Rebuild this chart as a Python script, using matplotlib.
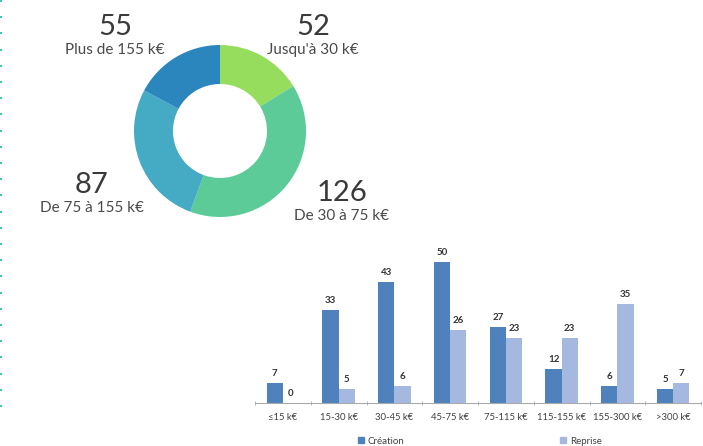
import matplotlib
matplotlib.use("Agg")
import matplotlib.pyplot as plt
import numpy as np
from matplotlib.patches import Patch

# ---- data ----
donut_labels = ["Jusqu'à 30 k€", "De 30 à 75 k€", "De 75 à 155 k€", "Plus de 155 k€"]
donut_values = [52, 126, 87, 55]
donut_colors = ["#96DD5E", "#5CCB98", "#45AAC4", "#2B86BE"]

bar_categories = ["≤15 k€", "15-30 k€", "30-45 k€", "45-75 k€", "75-115 k€",
                  "115-155 k€", "155-300 k€", ">300 k€"]
creation = [7, 33, 43, 50, 27, 12, 6, 5]
reprise = [0, 5, 6, 26, 23, 23, 35, 7]
series_names = ["Création", "Reprise"]
bar_colors = ["#4F81BD", "#A5B9E0"]

W, H = 703, 446
fig = plt.figure(figsize=(W / 100, H / 100), dpi=100)
fig.patch.set_facecolor("white")

fam = ["Lato", "DejaVu Sans"]

# ---- dotted teal border on left ----
ax_bg = fig.add_axes([0, 0, 1, 1])
ax_bg.set_xlim(0, W)
ax_bg.set_ylim(H, 0)
ax_bg.axis("off")
dots_y = np.arange(1, 410, 16.2)
ax_bg.scatter(np.full_like(dots_y, 0.8), dots_y, s=4, color="#3EC6B8", marker="s", linewidths=0)

# ---- donut ----
cx, cy, box = 220, 131, 200
ax_d = fig.add_axes([(cx - box / 2) / W, (H - cy - box / 2) / H, box / W, box / H])
ax_d.pie(donut_values, colors=donut_colors, startangle=90, counterclock=False,
         radius=0.86, wedgeprops=dict(width=0.39, edgecolor="none"))
ax_d.set_xlim(-1, 1)
ax_d.set_ylim(-1, 1)
ax_d.set_aspect("equal")
ax_d.axis("off")

# label positions in pixels (number center, text center)
label_pos = {
    "Jusqu'à 30 k€": (313, 27, 50),
    "De 30 à 75 k€": (342, 193, 216),
    "De 75 à 155 k€": (92, 185, 208),
    "Plus de 155 k€": (115, 27, 50),
}
for lab, val in zip(donut_labels, donut_values):
    x, yn, yt = label_pos[lab]
    ax_bg.text(x, yn, str(val), ha="center", va="center", fontsize=21,
               color="#3a3a3a", family=fam, fontweight="normal")
    ax_bg.text(x, yt, lab, ha="center", va="center", fontsize=11,
               color="#4a4a4a", family=fam, fontweight="normal")

# ---- bar chart ----
left_px, right_px, base_px = 255, 701, 403
ymax = 55
top_px = base_px - ymax * 2.82
ax = fig.add_axes([left_px / W, (H - base_px) / H, (right_px - left_px) / W,
                   (base_px - top_px) / H])
x = np.arange(len(bar_categories))
bw = 0.29
b1 = ax.bar(x - bw / 2, creation, bw, color=bar_colors[0], label=series_names[0])
b2 = ax.bar(x + bw / 2, reprise, bw, color=bar_colors[1], label=series_names[1])
for bars, vals in ((b1, creation), (b2, reprise)):
    for rect, v in zip(bars, vals):
        ax.annotate(str(v), (rect.get_x() + rect.get_width() / 2, v),
                    xytext=(0, 3.5), textcoords="offset points", ha="center",
                    va="bottom", fontsize=7, color="#333333", family=fam,
                    fontweight="bold")
ax.set_xlim(-0.5, len(bar_categories) - 0.5)
ax.set_ylim(0, ymax)
for s in ["top", "right", "left"]:
    ax.spines[s].set_visible(False)
ax.spines["bottom"].set_color("#AAAAAA")
ax.spines["bottom"].set_linewidth(0.8)
ax.set_yticks([])
ax.set_xticks(x)
ax.set_xticklabels(bar_categories, fontsize=6.8, color="#404040", family=fam)
ax.tick_params(axis="x", length=0, pad=7)
ax.set_xticks(np.arange(-0.5, len(bar_categories), 1.0), minor=True)
ax.tick_params(axis="x", which="minor", length=3, color="#AAAAAA", direction="inout")
ax.patch.set_alpha(0)

leg = fig.legend(handles=[Patch(color=bar_colors[0]), Patch(color=bar_colors[1])],
                 labels=series_names, ncol=2, loc="center",
                 bbox_to_anchor=(480 / W, (H - 441) / H), frameon=False,
                 handlelength=0.6, handleheight=0.6,
                 handletextpad=0.4, columnspacing=16, prop=dict(family=fam, size=7))
for t in leg.get_texts():
    t.set_color("#404040")

fig.savefig("out.png", dpi=100, facecolor="white")
